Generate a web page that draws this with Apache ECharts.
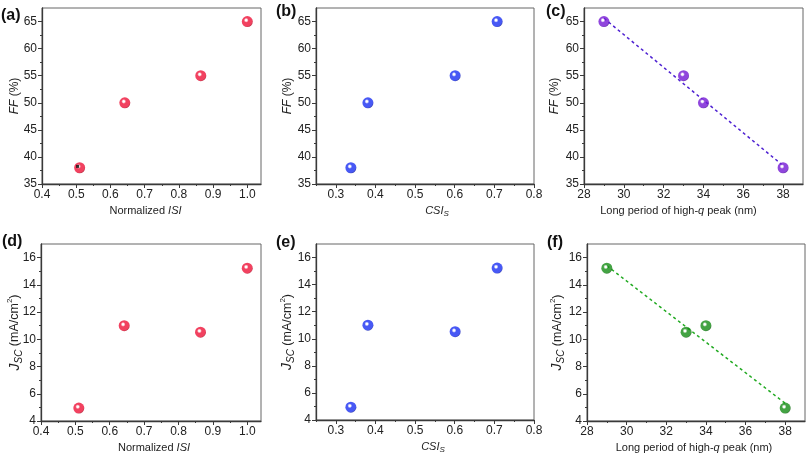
<!DOCTYPE html>
<html><head><meta charset="utf-8">
<script src="https://cdn.jsdelivr.net/npm/echarts@6/dist/echarts.min.js"></script>
<style>html,body{margin:0;padding:0;background:#fff}#c{width:810px;height:455px}</style>
</head><body><div id="c"></div>
<script>
// ---- data (same 4 samples in every panel) ----
const isiX = [0.51, 0.642, 0.864, 1.0];
const csiX = [0.338, 0.381, 0.601, 0.707];
const periodX = [38, 34, 33, 29];
const ffY = [38, 50, 55, 65];
const jscY = [4.95, 11.0, 10.52, 15.22];
const ffFitLine = [[29, 65.6], [38, 38.4]];
const jscFitLine = [[29, 15.4], [38, 5.3]];
const blackMark = [[0.504, 38.25]];

const isiTicks = [0.4, 0.5, 0.6, 0.7, 0.8, 0.9, 1.0];
const isiMinor = [0.45, 0.55, 0.65, 0.75, 0.85, 0.95];
const csiTicks = [0.3, 0.4, 0.5, 0.6, 0.7, 0.8];
const csiMinor = [0.25, 0.35, 0.45, 0.55, 0.65, 0.75];
const periodTicks = [28, 30, 32, 34, 36, 38];
const periodMinor = [29, 31, 33, 35, 37];
const ffTicks = [35, 40, 45, 50, 55, 60, 65];
const ffMinor = [37.5, 42.5, 47.5, 52.5, 57.5, 62.5];
const jscTicks = [4, 6, 8, 10, 12, 14, 16];
const jscMinor = [5, 7, 9, 11, 13, 15];

const FONT = '"Liberation Sans", Arial, sans-serif';
const TXT = '#222';
const AX = '#3a3a3a';

function sphere(base, dark) {
  return {
    type: 'radial', x: 0.4, y: 0.38, r: 0.68,
    colorStops: [
      { offset: 0, color: '#ffffff' },
      { offset: 0.12, color: '#ffffff' },
      { offset: 0.32, color: base },
      { offset: 0.78, color: base },
      { offset: 1, color: dark }
    ]
  };
}
const RED = sphere('#ee1238', '#9a0018');
const BLUE = sphere('#1a2ff2', '#08128e');
const PURPLE = sphere('#7418d4', '#40068a');
const GREEN = sphere('#158c15', '#064d06');

const grids = [
  { left: 42, top: 8, width: 219, height: 176 },
  { left: 316, top: 8, width: 218, height: 176 },
  { left: 584, top: 8, width: 219, height: 176 },
  { left: 41, top: 244, width: 220, height: 177 },
  { left: 316, top: 244, width: 218, height: 177 },
  { left: 587, top: 244, width: 218, height: 177 }
];

const richBase = {
  n: { fontSize: 11, fontFamily: FONT, color: TXT, lineHeight: 14 },
  i: { fontSize: 11, fontFamily: FONT, color: TXT, fontStyle: 'italic', lineHeight: 14 },
  s: { fontSize: 8, fontFamily: FONT, color: TXT, fontStyle: 'italic', lineHeight: 8, verticalAlign: 'bottom' },
  fn: { fontSize: 12, fontFamily: FONT, color: TXT, lineHeight: 15 },
  fi: { fontSize: 12, fontFamily: FONT, color: TXT, fontStyle: 'italic', lineHeight: 15 },
  j: { fontSize: 14, fontFamily: FONT, color: TXT, fontStyle: 'italic', lineHeight: 18 },
  js: { fontSize: 10, fontFamily: FONT, color: TXT, fontStyle: 'italic', lineHeight: 9, verticalAlign: 'bottom' },
  jn: { fontSize: 12.5, fontFamily: FONT, color: TXT, lineHeight: 18 },
  jp: { fontSize: 8, fontFamily: FONT, color: TXT, lineHeight: 9, verticalAlign: 'top' }
};

const xDefs = [
  { min: 0.4, max: 1.04, ticks: isiTicks, minor: isiMinor, dec: 1, name: '{n|Normalized }{i|ISI}', pad: [0, 12, 0, 0] },
  { min: 0.25, max: 0.8, ticks: csiTicks, minor: csiMinor, dec: 1, name: '{i|CSI}{s|S}', pad: [0, 0, 0, 24] },
  { min: 28, max: 39, ticks: periodTicks, minor: periodMinor, dec: 0, name: '{n|Long period of high-}{i|q}{n| peak (nm)}', pad: [0, 30, 0, 0] },
  { min: 0.4, max: 1.04, ticks: isiTicks, minor: isiMinor, dec: 1, name: '{n|Normalized }{i|ISI}', pad: [0, 0, 0, 6] },
  { min: 0.25, max: 0.8, ticks: csiTicks, minor: csiMinor, dec: 1, name: '{i|CSI}{s|S}', pad: [0, 0, 0, 16] },
  { min: 28, max: 39, ticks: periodTicks, minor: periodMinor, dec: 0, name: '{n|Long period of high-}{i|q}{n| peak (nm)}', pad: [0, 4, 0, 0] }
];
const ffName = '{fi|FF}{fn| (%)}';
const jscName = '{j|J}{js|SC}{jn| (mA/cm}{jp|2}{jn|)}';
const yDefs = [
  { min: 35, max: 67.5, ticks: ffTicks, minor: ffMinor, name: ffName, gap: 20 },
  { min: 35, max: 67.5, ticks: ffTicks, minor: ffMinor, name: ffName, gap: 21 },
  { min: 35, max: 67.5, ticks: ffTicks, minor: ffMinor, name: ffName, gap: 22 },
  { min: 4, max: 17, ticks: jscTicks, minor: jscMinor, name: jscName, gap: 17 },
  { min: 4, max: 17, ticks: jscTicks, minor: jscMinor, name: jscName, gap: 19.5 },
  { min: 4, max: 17, ticks: jscTicks, minor: jscMinor, name: jscName, gap: 20.5 }
];

const xAxis = [], yAxis = [];
xDefs.forEach((d, i) => {
  xAxis.push({
    type: 'value', gridIndex: i, min: d.min, max: d.max, position: 'bottom',
    axisLine: { show: true, onZero: false, lineStyle: { color: AX, width: 1.3 } },
    axisTick: { show: true, inside: false, length: 4, customValues: d.ticks, lineStyle: { color: AX, width: 1 } },
    axisLabel: { customValues: d.ticks, fontSize: 12, fontFamily: FONT, color: TXT, margin: 5,
      formatter: v => Number(v).toFixed(d.dec) },
    splitLine: { show: false },
    name: d.name, nameLocation: 'middle', nameGap: 20, nameMoveOverlap: false,
    nameTextStyle: { fontSize: 11, fontFamily: FONT, color: TXT, padding: d.pad, rich: richBase }
  });
  xAxis.push({
    type: 'value', gridIndex: i, min: d.min, max: d.max, position: 'bottom', offset: 0,
    axisLine: { show: false, onZero: false },
    axisTick: { show: true, inside: false, length: 2, customValues: d.minor, lineStyle: { color: AX, width: 1 } },
    axisLabel: { show: false }, splitLine: { show: false }
  });
});
yDefs.forEach((d, i) => {
  yAxis.push({
    type: 'value', gridIndex: i, min: d.min, max: d.max, position: 'left',
    axisLine: { show: true, onZero: false, lineStyle: { color: AX, width: 1.3 } },
    axisTick: { show: true, inside: false, length: 4, customValues: d.ticks, lineStyle: { color: AX, width: 1 } },
    axisLabel: { customValues: d.ticks, fontSize: 12, fontFamily: FONT, color: TXT, margin: 5 },
    splitLine: { show: false },
    name: d.name, nameLocation: 'middle', nameGap: d.gap, nameRotate: 90, nameMoveOverlap: false,
    nameTextStyle: { fontSize: 12, fontFamily: FONT, color: TXT, rich: richBase }
  });
  yAxis.push({
    type: 'value', gridIndex: i, min: d.min, max: d.max, position: 'left', offset: 0,
    axisLine: { show: false, onZero: false },
    axisTick: { show: true, inside: false, length: 2, customValues: d.minor, lineStyle: { color: AX, width: 1 } },
    axisLabel: { show: false }, splitLine: { show: false }
  });
});

function pts(xs, ys) { return xs.map((x, k) => [x, ys[k]]); }
function scatter(i, data, color) {
  return { type: 'scatter', xAxisIndex: 2 * i, yAxisIndex: 2 * i, data: data, symbolSize: 11,
    itemStyle: { color: color }, z: 5, silent: true };
}
function fit(i, data, color) {
  return { type: 'line', xAxisIndex: 2 * i, yAxisIndex: 2 * i, data: data, symbol: 'none',
    lineStyle: { color: color, width: 1.5, type: [3, 3] }, z: 3, silent: true };
}

const series = [
  scatter(0, pts(isiX, ffY), RED),
  { type: 'scatter', xAxisIndex: 0, yAxisIndex: 0, data: blackMark, symbol: 'rect', symbolSize: 3,
    itemStyle: { color: '#000' }, z: 6, silent: true },
  scatter(1, pts(csiX, ffY), BLUE),
  fit(2, ffFitLine, '#4f22d2'),
  scatter(2, pts(periodX, ffY), PURPLE),
  scatter(3, pts(isiX, jscY), RED),
  scatter(4, pts(csiX, jscY), BLUE),
  fit(5, jscFitLine, '#22aa22'),
  scatter(5, pts(periodX, jscY), GREEN)
];

const labels = [
  ['(a)', 1, 8], ['(b)', 276, 4], ['(c)', 546, 4],
  ['(d)', 2, 234], ['(e)', 276, 235], ['(f)', 547, 235]
];
const graphic = labels.map(l => ({
  type: 'text', left: l[1], top: l[2],
  style: { text: l[0], font: 'bold 16px ' + FONT, fill: '#111' }
}));

const chart = echarts.init(document.getElementById('c'), null, { renderer: 'canvas' });
chart.setOption({
  animation: false,
  backgroundColor: '#fff',
  grid: grids.map(g => Object.assign({ show: true, borderColor: '#666', borderWidth: 1, backgroundColor: 'transparent', containLabel: false }, g)),
  xAxis: xAxis, yAxis: yAxis, series: series, graphic: graphic
});
</script></body></html>
